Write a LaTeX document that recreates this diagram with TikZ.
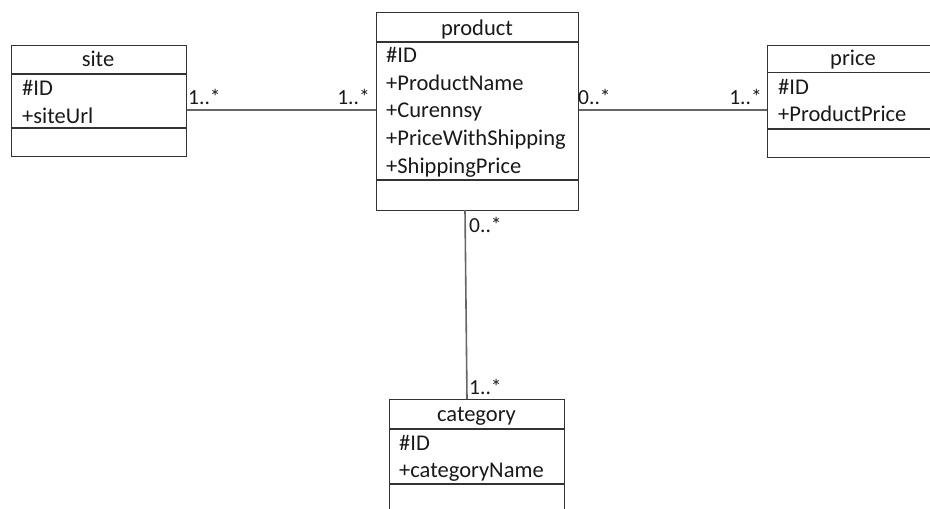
\documentclass[tikz,border=0pt]{standalone}
\usepackage{fontspec}
\setmainfont{Carlito}
\begin{document}
\begin{tikzpicture}[x=1pt,y=1pt,
  classbox/.style={draw=black!80, line width=1.3pt, rectangle, inner sep=0pt, anchor=north west},
  divider/.style={draw=black!80, line width=1.3pt},
  title/.style={font=\fontsize{22.5}{27}\selectfont, text=black!90, anchor=base, inner sep=0pt},
  attr/.style={font=\fontsize{22.5}{27}\selectfont, text=black!90, anchor=base west, inner sep=0pt},
  assoc/.style={draw=black!60, line width=1.6pt},
  mult/.style={font=\fontsize{21.5}{26}\selectfont, text=black!90, inner sep=0pt}]
\useasboundingbox (0,0) rectangle (930,-509);
\clip (0,0) rectangle (930,-509);

% site
\node[classbox, minimum width=175.5pt, minimum height=110.5pt] (site) at (10.5,-45) {};
\draw[divider] (10.5,-74) -- (186,-74);
\draw[divider] (10.5,-128) -- (186,-128);
\node[title] (siteT) at (98,-66.5) {site};
\node[attr] (siteA1) at (22,-95) {\#ID};
\node[attr] (siteA2) at (22,-123) {+siteUrl};

% product
\node[classbox, minimum width=202pt, minimum height=198pt] (product) at (376,-12) {};
\draw[divider] (376,-42) -- (578,-42);
\draw[divider] (376,-180) -- (578,-180);
\node[title] (productT) at (477,-35) {product};
\node[attr] (productA1) at (386,-62) {\#ID};
\node[attr] (productA2) at (386,-90) {+ProductName};
\node[attr] (productA3) at (386,-117.5) {+Curennsy};
\node[attr] (productA4) at (386,-145.5) {+PriceWithShipping};
\node[attr] (productA5) at (386,-173) {+ShippingPrice};

% price
\node[classbox, minimum width=175pt, minimum height=112.5pt] (price) at (767,-44.5) {};
\draw[divider] (767,-72.7) -- (942,-72.7);
\draw[divider] (767,-129) -- (942,-129);
\node[title] (priceT) at (853,-65) {price};
\node[attr] (priceA1) at (778,-94) {\#ID};
\node[attr] (priceA2) at (778,-121.5) {+ProductPrice};

% category
\node[classbox, minimum width=175pt, minimum height=130pt] (category) at (389,-399) {};
\draw[divider] (389,-429) -- (564,-429);
\draw[divider] (389,-484) -- (564,-484);
\node[title] (categoryT) at (476.5,-421) {category};
\node[attr] (categoryA1) at (399,-450) {\#ID};
\node[attr] (categoryA2) at (399,-477) {+categoryName};

% associations
\coordinate (sp1) at (site.east |- 0,-110);
\coordinate (sp2) at (product.west |- 0,-110);
\coordinate (pp1) at (product.east |- 0,-110);
\coordinate (pp2) at (price.west |- 0,-110);
\coordinate (pc1) at (465,-210);
\coordinate (pc2) at (467,-399);
\draw[assoc] (sp1) -- (sp2);
\draw[assoc] (pp1) -- (pp2);
\draw[assoc] (pc1) -- (pc2);

% multiplicities
\node[mult, anchor=base west] (m1) at (188,-104) {1..*};
\node[mult, anchor=base east] (m2) at (370,-104) {1..*};
\node[mult, anchor=base west] (m3) at (578,-104) {0..*};
\node[mult, anchor=base east] (m4) at (762,-104) {1..*};
\node[mult, anchor=base west] (m5) at (469,-232) {0..*};
\node[mult, anchor=base west] (m6) at (469,-394) {1..*};
\end{tikzpicture}
\end{document}
